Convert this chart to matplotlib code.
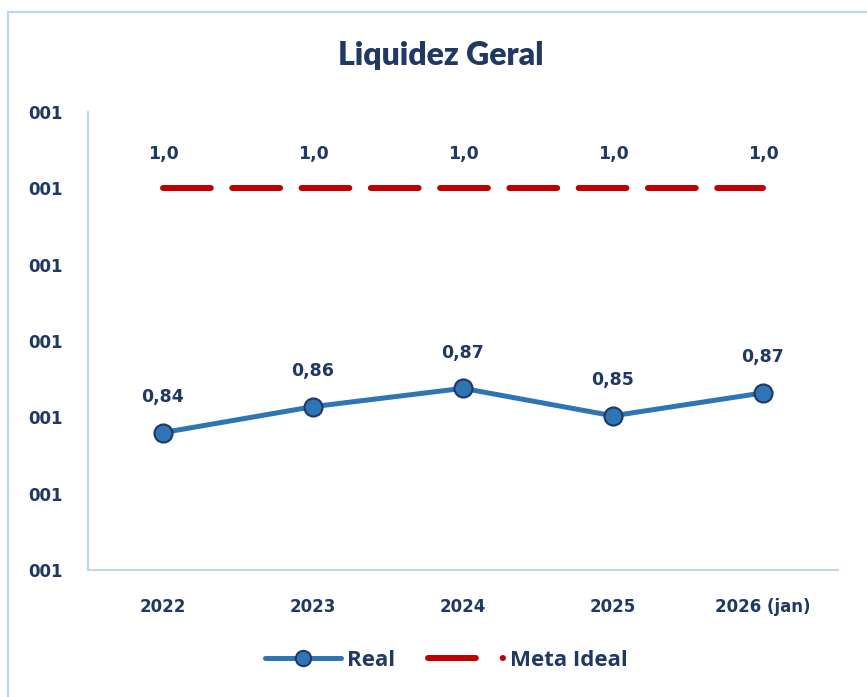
import matplotlib.pyplot as plt
import matplotlib.patches as patches
from matplotlib.lines import Line2D

# chart data
categories = ["2022", "2023", "2024", "2025", "2026 (jan)"]
real_values = [0.84, 0.857, 0.869, 0.851, 0.866]
real_labels = ["0,84", "0,86", "0,87", "0,85", "0,87"]
meta_values = [1.0, 1.0, 1.0, 1.0, 1.0]
meta_labels = ["1,0", "1,0", "1,0", "1,0", "1,0"]
y_ticks = [0.75, 0.80, 0.85, 0.90, 0.95, 1.00, 1.05]
y_tick_labels = ["001"] * 7

navy = "#1F3864"
blue = "#2E75B6"
red = "#C00000"
light = "#BDD7EE"

plt.rcParams['font.family'] = ['DejaVu Sans']

fig = plt.figure(figsize=(8.67, 6.97), dpi=100)
ax = fig.add_axes([0.1015, 0.1822, 0.865, 0.6571])

# outer chart border
fig.patches.append(patches.Rectangle((8 / 867, -0.1), 1.2, 1.1 - 12 / 697,
                                     transform=fig.transFigure, fill=False,
                                     edgecolor=light, linewidth=1.6))

x = list(range(len(categories)))

ax.plot(x, meta_values, color=red, linewidth=4.3, dashes=(8, 3.6),
        dash_capstyle='round', solid_capstyle='round', zorder=2)
ax.plot(x, real_values, color=blue, linewidth=3.6, marker='o', markersize=13,
        markerfacecolor=blue, markeredgecolor=navy, markeredgewidth=1.5,
        solid_capstyle='round', zorder=3)

for xi, v, lab in zip(x, meta_values, meta_labels):
    ax.annotate(lab, (xi, v), xytext=(0, 21), textcoords='offset points',
                ha='center', va='baseline', fontsize=12.5, fontweight='bold', color=navy)
for xi, v, lab in zip(x, real_values, real_labels):
    ax.annotate(lab, (xi, v), xytext=(0, 22), textcoords='offset points',
                ha='center', va='baseline', fontsize=12.5, fontweight='bold', color=navy)

ax.set_xlim(-0.5, len(categories) - 0.5)
ax.set_ylim(0.75, 1.05)
ax.set_xticks(x)
ax.set_xticklabels(categories)
ax.set_yticks(y_ticks)
ax.set_yticklabels(y_tick_labels)
ax.tick_params(axis='both', length=0, colors=navy, labelsize=12)
ax.tick_params(axis='y', pad=18)
ax.tick_params(axis='x', pad=20)
for lab in ax.get_xticklabels() + ax.get_yticklabels():
    lab.set_fontweight('bold')

for side in ['top', 'right']:
    ax.spines[side].set_visible(False)
for side in ['left', 'bottom']:
    ax.spines[side].set_color(light)
    ax.spines[side].set_linewidth(1.5)

fig.text(0.508, 0.921, "Liquidez Geral", ha='center', va='center',
         fontsize=23, fontweight='heavy', color=navy, family=['Lato', 'DejaVu Sans'])

# legend: dashed handle shows one dash and the start of the next as a dot
handles = [
    Line2D([], [], color=blue, linewidth=3.6, marker='o', markersize=11,
           markerfacecolor=blue, markeredgecolor=navy, markeredgewidth=1.5,
           solid_capstyle='round'),
    Line2D([], [], color=red, linewidth=4.3, dashes=(8, 4.5), dash_capstyle='round'),
]
leg = fig.legend(handles, ["Real", "Meta Ideal"], loc='center', ncol=2,
                 bbox_to_anchor=(0.515, 0.053), frameon=False, handlelength=3.4,
                 handletextpad=0.3, columnspacing=1.45,
                 prop={'family': 'Open Sans', 'weight': 'bold', 'size': 16})
for t in leg.get_texts():
    t.set_color(navy)

fig.savefig("out.png", dpi=100)
